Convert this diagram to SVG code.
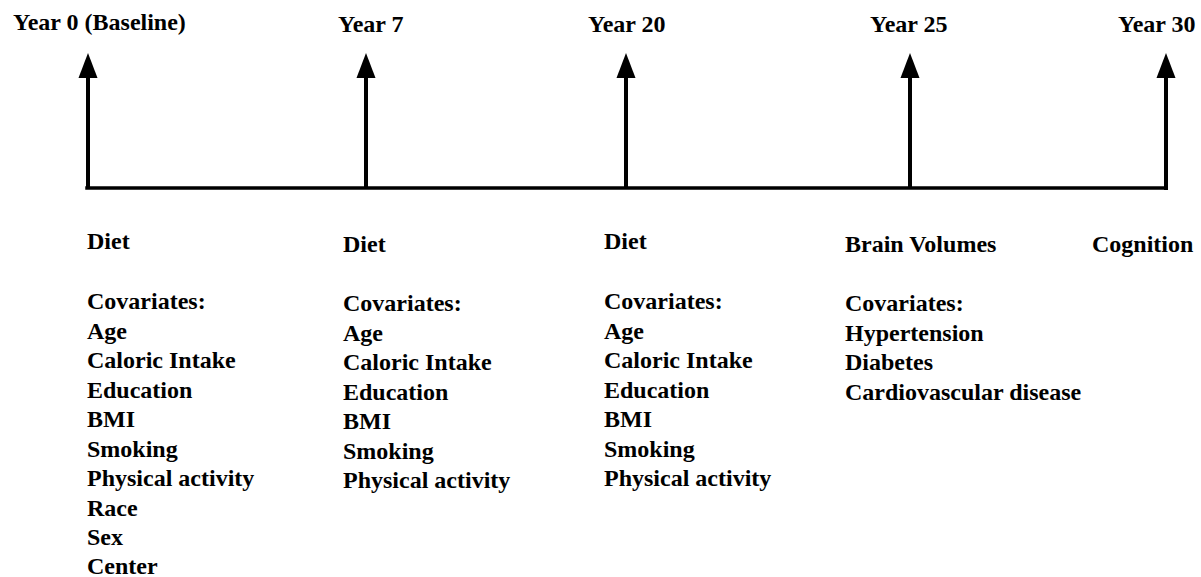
<svg xmlns="http://www.w3.org/2000/svg" width="1201" height="577" viewBox="0 0 1201 577">
  <style>
    .stem { stroke: #000; stroke-width: 4; fill: none; }
    .axis { stroke: #000; stroke-width: 3.5; fill: none; stroke-linecap: square; }
  </style>
  <defs>
    <polygon id="head" points="0,-25 9.5,0 -9.5,0" fill="#000"/>
  </defs>
  <rect width="1201" height="577" fill="#fff"/>

  <g id="connectors">
    <line class="axis" x1="87" y1="188" x2="1166" y2="188"/>
    <line class="stem" x1="88" y1="188" x2="88" y2="76"/>
    <use href="#head" x="88" y="78"/>
    <line class="stem" x1="366" y1="188" x2="366" y2="76"/>
    <use href="#head" x="366" y="78"/>
    <line class="stem" x1="626" y1="188" x2="626" y2="76"/>
    <use href="#head" x="626" y="78"/>
    <line class="stem" x1="910" y1="188" x2="910" y2="76"/>
    <use href="#head" x="910" y="78"/>
    <line class="stem" x1="1166" y1="190" x2="1166" y2="76"/>
    <use href="#head" x="1166" y="78"/>
  </g>

  <g font-family="Liberation Serif, DejaVu Serif, serif" font-weight="bold" font-size="24" fill="#000">
  <g id="year0">
    <text x="13" y="30">Year 0 (Baseline)</text>
    <text x="87" y="249">Diet</text>
    <text x="87" y="309">Covariates:</text>
    <text x="87" y="338.5">Age</text>
    <text x="87" y="368">Caloric Intake</text>
    <text x="87" y="397.5">Education</text>
    <text x="87" y="427">BMI</text>
    <text x="87" y="456.5">Smoking</text>
    <text x="87" y="486">Physical activity</text>
    <text x="87" y="515.5">Race</text>
    <text x="87" y="545">Sex</text>
    <text x="87" y="573.5">Center</text>
  </g>

  <g id="year7">
    <text x="338" y="32">Year 7</text>
    <text x="343" y="252">Diet</text>
    <text x="343" y="311">Covariates:</text>
    <text x="343" y="340.5">Age</text>
    <text x="343" y="370">Caloric Intake</text>
    <text x="343" y="399.5">Education</text>
    <text x="343" y="429">BMI</text>
    <text x="343" y="458.5">Smoking</text>
    <text x="343" y="488">Physical activity</text>
  </g>

  <g id="year20">
    <text x="588" y="32">Year 20</text>
    <text x="604" y="249">Diet</text>
    <text x="604" y="309">Covariates:</text>
    <text x="604" y="338.5">Age</text>
    <text x="604" y="368">Caloric Intake</text>
    <text x="604" y="397.5">Education</text>
    <text x="604" y="427">BMI</text>
    <text x="604" y="456.5">Smoking</text>
    <text x="604" y="486">Physical activity</text>
  </g>

  <g id="year25">
    <text x="870" y="32">Year 25</text>
    <text x="845" y="252">Brain Volumes</text>
    <text x="845" y="311">Covariates:</text>
    <text x="845" y="340.5">Hypertension</text>
    <text x="845" y="370">Diabetes</text>
    <text x="845" y="399.5">Cardiovascular disease</text>
  </g>

  <g id="year30">
    <text x="1118" y="32">Year 30</text>
    <text x="1092" y="252">Cognition</text>
  </g>
  </g>
</svg>
